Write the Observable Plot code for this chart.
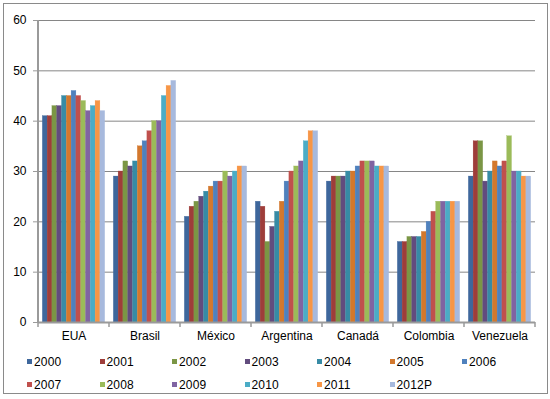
<!DOCTYPE html>
<html><head><meta charset="utf-8">
<script src="https://cdn.jsdelivr.net/npm/d3@7"></script>
<script src="https://cdn.jsdelivr.net/npm/@observablehq/plot@0.6"></script>
<style>
body{margin:0;background:#fff;font-family:"Liberation Sans",Arial,sans-serif;}
#wrap{position:relative;width:550px;height:399px;overflow:hidden;background:#fff;}
#border{position:absolute;left:3px;top:3px;width:545px;height:391px;border:1px solid #8a8a8a;box-sizing:border-box;}
#chart{position:absolute;left:0;top:0;}
#legend{position:absolute;left:27px;top:350px;display:grid;grid-template-columns:repeat(7,72.5px);grid-auto-rows:23px;}
.item{display:flex;align-items:center;font-size:12px;color:#000;letter-spacing:0.2px;}
.sw{width:5px;height:5px;margin-right:2px;flex:none;}
</style></head>
<body>
<div id="wrap"><div id="border"></div><div id="chart"></div><div id="legend"></div></div>
<script>
const countries = ["EUA","Brasil","México","Argentina","Canadá","Colombia","Venezuela"];
const years = ["2000","2001","2002","2003","2004","2005","2006","2007","2008","2009","2010","2011","2012P"];
const EUA       = [41,41,43,43,45,45,46,45,44,42,43,44,42];
const Brasil    = [29,30,32,31,32,35,36,38,40,40,45,47,48];
const Mexico    = [21,23,24,25,26,27,28,28,30,29,30,31,31];
const Argentina = [24,23,16,19,22,24,28,30,31,32,36,38,38];
const Canada    = [28,29,29,29,30,30,31,32,32,32,31,31,31];
const Colombia  = [16,16,17,17,17,18,20,22,24,24,24,24,24];
const Venezuela = [29,36,36,28,30,32,31,32,37,30,30,29,29];
const yTicks = [0,10,20,30,40,50,60];
const colors = ["#3e679c","#9e3d3a","#7b9645","#624c7e","#378ba5","#d3782d","#4f81bd","#c0504d","#9bbb59","#8064a2","#4bacc6","#f79646","#a7b9dd"];

const series = [EUA,Brasil,Mexico,Argentina,Canada,Colombia,Venezuela];
const data = [];
countries.forEach((c,i)=>years.forEach((y,j)=>data.push({country:c,year:y,value:series[i][j]})));

const chart = Plot.plot({
  width: 550, height: 345,
  marginLeft: 38, marginRight: 15, marginTop: 20, marginBottom: 23,
  style: {fontFamily: '"Liberation Sans",Arial,sans-serif', fontSize: "12px", color: "#000", background: "transparent"},
  fx: {domain: countries, padding: 0, label: null, round: false},
  x: {domain: years, axis: null, paddingInner: 0, paddingOuter: 0.9, round: false},
  y: {domain: [0,60], label: null},
  color: {domain: years, range: colors},
  marks: [
    Plot.gridY(yTicks, {stroke: "#868686", strokeOpacity: 1}),
    Plot.barY(data, {fx: "country", x: "year", y: "value", fill: "year", stroke: "year", strokeWidth: 0.3}),
    Plot.ruleY([0], {stroke: "#9a9a9a", strokeWidth: 2}),
    Plot.axisY(yTicks, {tickSize: 5, tickPadding: 7, stroke: "#9a9a9a", label: null, fontSize: 12}),
    Plot.axisFx({anchor: "bottom", tickSize: 0, tickPadding: 9, label: null, fontSize: 12, letterSpacing: 0.8})
  ]
});
document.getElementById("chart").appendChild(chart);

// left axis line and category boundary ticks from the plot's own scales
const fx = chart.scale("fx"), ys = chart.scale("y");
const y0 = ys.apply(0), y1 = ys.apply(60);
const svg = d3.select(chart);
const g = svg.append("g").attr("stroke", "#9a9a9a");
const left = fx.apply(countries[0]);
g.append("line").attr("x1", left).attr("x2", left).attr("y1", y1).attr("y2", y0 + 1).attr("stroke-width", 2);
const edges = countries.map(c => fx.apply(c)).concat([fx.apply(countries[countries.length-1]) + fx.bandwidth]);
edges.forEach(x => g.append("line").attr("x1", x).attr("x2", x).attr("y1", y0).attr("y2", y0 + 5).attr("stroke-width", 1.5));

const legend = d3.select("#legend");
years.forEach((y,i)=>{
  const it = legend.append("div").attr("class","item");
  it.append("div").attr("class","sw").style("background", colors[i]);
  it.append("span").text(y);
});
</script>
</body></html>
